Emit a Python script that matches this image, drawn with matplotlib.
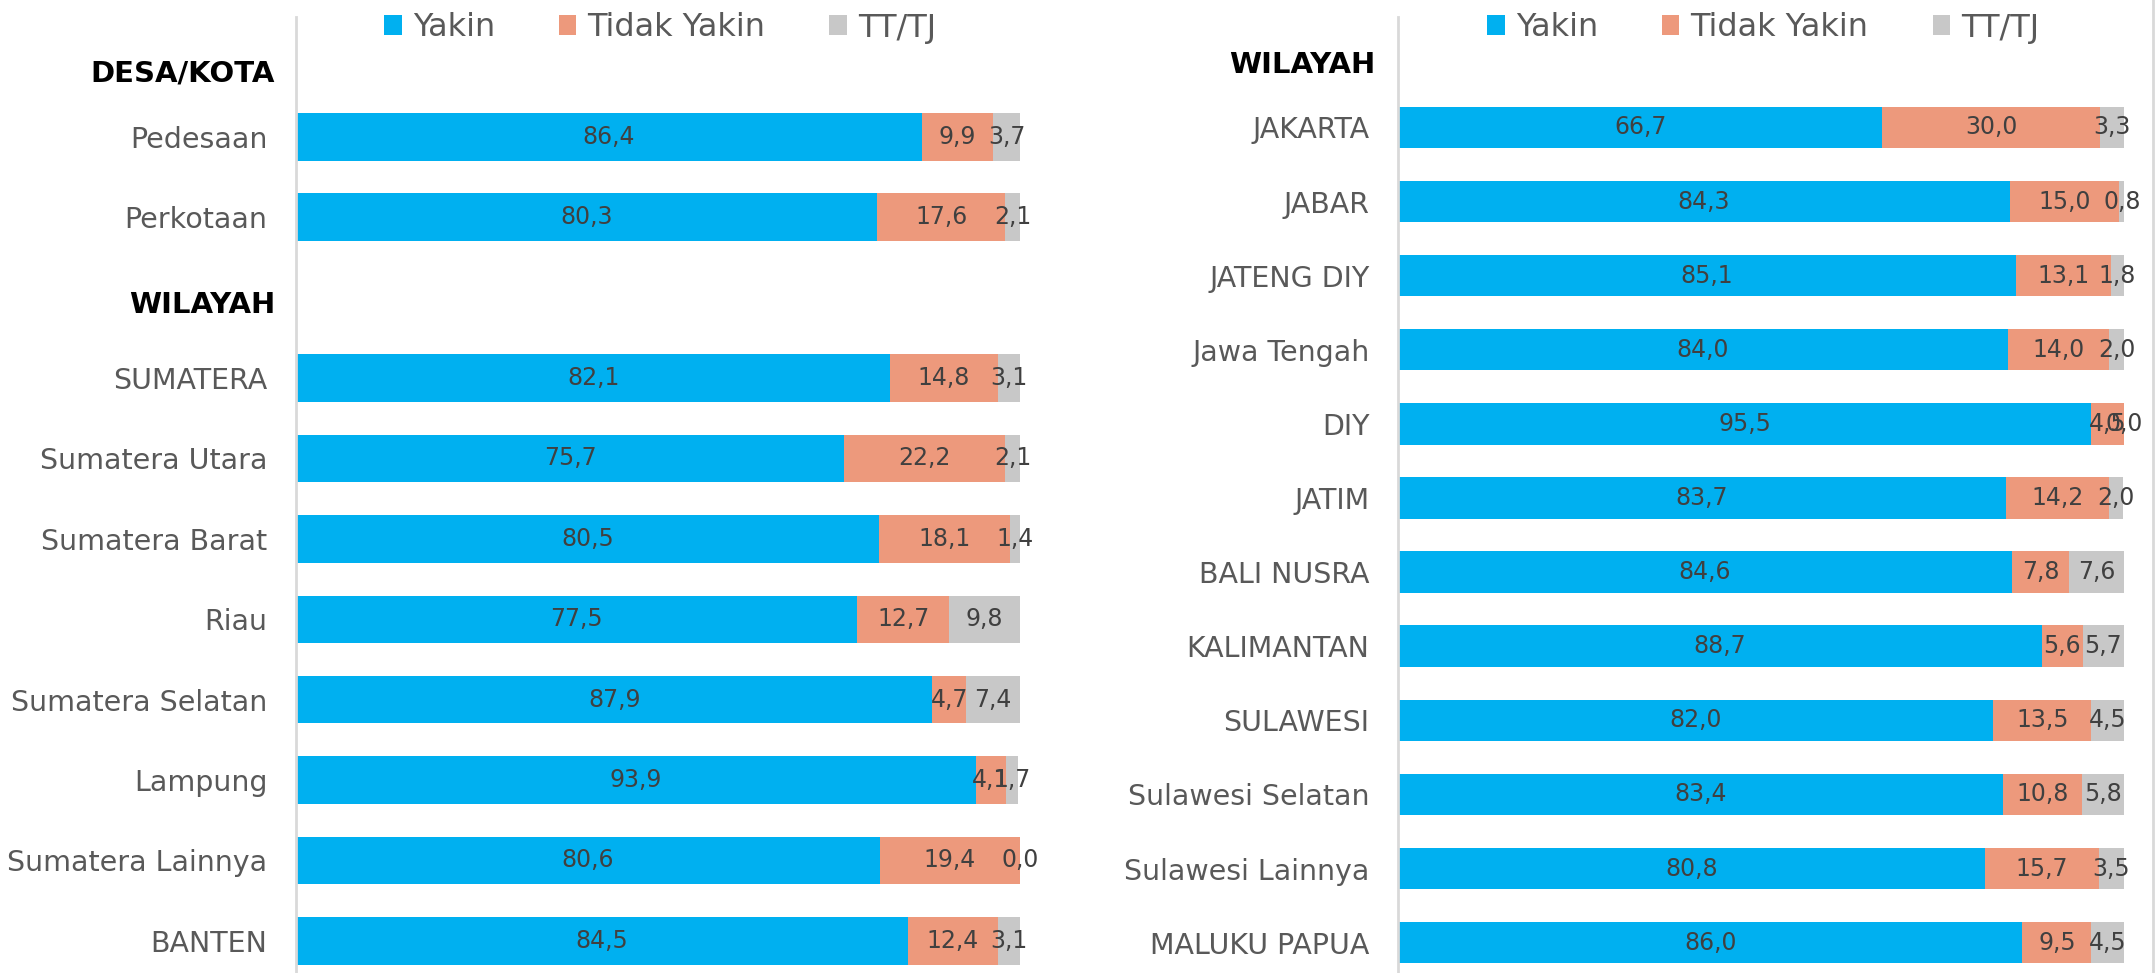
import matplotlib
matplotlib.use("Agg")
import matplotlib.pyplot as plt
from matplotlib.patches import Patch

plt.rcParams['font.family'] = ['DejaVu Sans']

series_names = ["Yakin", "Tidak Yakin", "TT/TJ"]
series_colors = ["#00B0F0", "#ED997C", "#C8C8C8"]

# Left panel: settlement type and Sumatera/Banten regions
left_groups = [
    ("DESA/KOTA", ["Pedesaan", "Perkotaan"]),
    ("WILAYAH", ["SUMATERA", "Sumatera Utara", "Sumatera Barat", "Riau",
                 "Sumatera Selatan", "Lampung", "Sumatera Lainnya", "BANTEN"]),
]
left_yakin = [86.4, 80.3, 82.1, 75.7, 80.5, 77.5, 87.9, 93.9, 80.6, 84.5]
left_tidak = [9.9, 17.6, 14.8, 22.2, 18.1, 12.7, 4.7, 4.1, 19.4, 12.4]
left_tttj = [3.7, 2.1, 3.1, 2.1, 1.4, 9.8, 7.4, 1.7, 0.0, 3.1]

# Right panel: Java and eastern regions
right_groups = [
    ("WILAYAH", ["JAKARTA", "JABAR", "JATENG DIY", "Jawa Tengah", "DIY", "JATIM",
                 "BALI NUSRA", "KALIMANTAN", "SULAWESI", "Sulawesi Selatan",
                 "Sulawesi Lainnya", "MALUKU PAPUA"]),
]
right_yakin = [66.7, 84.3, 85.1, 84.0, 95.5, 83.7, 84.6, 88.7, 82.0, 83.4, 80.8, 86.0]
right_tidak = [30.0, 15.0, 13.1, 14.0, 4.5, 14.2, 7.8, 5.6, 13.5, 10.8, 15.7, 9.5]
right_tttj = [3.3, 0.8, 1.8, 2.0, 0.0, 2.0, 7.6, 5.7, 4.5, 5.8, 3.5, 4.5]

W, H = 2156, 973
fig = plt.figure(figsize=(W / 100, H / 100), dpi=100)


def fmt(v):
    return f"{v:.1f}".replace(".", ",")


def draw_panel(ax, groups, values, bar_h, ymax, head_shift, head_gap):
    # lay out header rows (no bars) followed by their category rows
    rows, headers = [], []
    pos = 0
    for head, cats in groups:
        headers.append((head, pos))
        pos += 1
        for c in cats:
            rows.append((c, pos))
            pos += 1
    ys = [p for _, p in rows]
    left = [0.0] * len(ys)
    for vals, color in zip(values, series_colors):
        ax.barh(ys, vals, left=left, height=bar_h, color=color, edgecolor='none')
        for y, l, v in zip(ys, left, vals):
            ax.text(l + v / 2, y, fmt(v), ha='center', va='center',
                    fontsize=17, color='#404040', clip_on=False)
        left = [a + b for a, b in zip(left, vals)]
    ax.set_yticks(ys)
    ax.set_yticklabels([c for c, _ in rows], fontsize=20.5, color='#595959')
    ax.tick_params(axis='y', length=0, pad=20.5)
    ax.tick_params(axis='x', length=0, labelbottom=False)
    for (head, p), dy in zip(headers, head_shift):
        ax.text(-head_gap, p + dy, head, transform=ax.get_yaxis_transform(),
                ha='right', va='center', fontsize=21, fontweight='bold',
                color='black')
    ax.set_xlim(0, 100)
    ax.set_ylim(ymax, -0.49)
    for s in ['top', 'right', 'bottom']:
        ax.spines[s].set_visible(False)
    ax.spines['left'].set_color('#D9D9D9')
    ax.spines['left'].set_linewidth(2)
    handles = [Patch(facecolor=c, edgecolor='none') for c in series_colors]
    ax.legend(handles, series_names, ncol=3, loc='center',
              bbox_to_anchor=(0.503, 1 - 11 / 956), frameon=False,
              fontsize=23, handlelength=0.55, handleheight=0.6,
              handletextpad=0.35, columnspacing=2.0, labelcolor='#595959',
              borderaxespad=0)


ax1 = fig.add_axes([296 / W, 0, 724 / W, 956 / H])
draw_panel(ax1, left_groups, [left_yakin, left_tidak, left_tttj], 0.59, 11.4,
           head_shift=[0.21, 0.09], head_gap=0.029)

ax2 = fig.add_axes([1398 / W, 0, 726 / W, 956 / H])
draw_panel(ax2, right_groups, [right_yakin, right_tidak, right_tttj], 0.56, 12.41,
           head_shift=[0.16], head_gap=0.031)

# thin frame line on the right edge
fig.add_artist(plt.Line2D([2153 / W, 2153 / W], [0, 1], color='#D9D9D9', lw=2))

fig.savefig("out.png", dpi=100)
